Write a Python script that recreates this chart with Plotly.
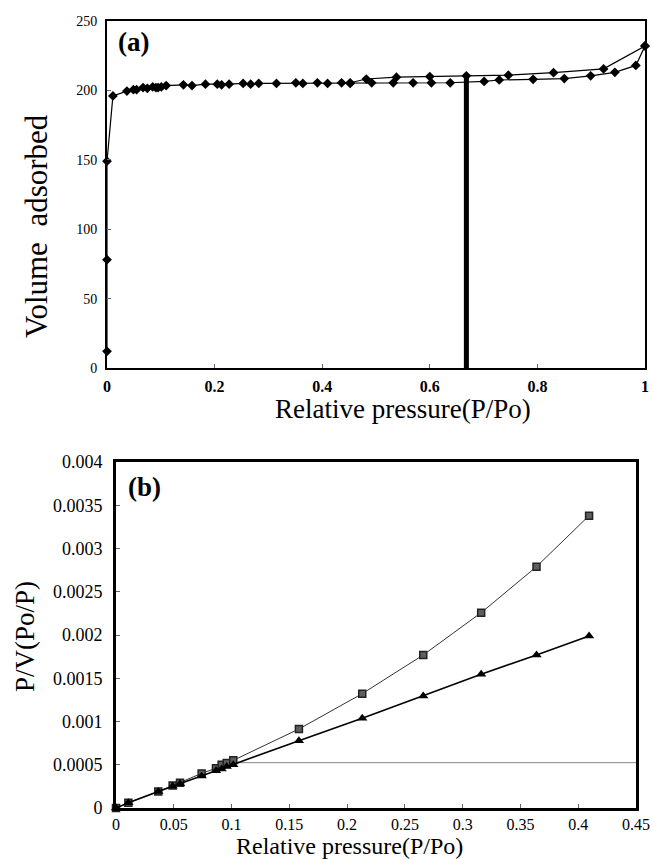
import plotly.graph_objects as go

# ---------------- Panel (a): isotherm ----------------
ads_x = [0, 0, 0, 0.011, 0.037, 0.049, 0.055, 0.067, 0.075, 0.085, 0.091, 0.095, 0.101, 0.110,
         0.142, 0.158, 0.183, 0.205, 0.213, 0.227, 0.253, 0.267, 0.282, 0.315, 0.351, 0.364,
         0.391, 0.410, 0.436, 0.452, 0.492, 0.532, 0.569, 0.603, 0.638, 0.701, 0.729, 0.792,
         0.850, 0.899, 0.944, 0.983, 1.0]
ads_y = [12, 78, 149, 196, 199.5, 200.5, 200.5, 202, 201.5, 202.5, 202, 202, 202.5, 203.5,
         204, 203.5, 204.5, 204.5, 204, 204.5, 205, 204.5, 205, 205, 205.5, 205,
         205.5, 205, 205.5, 205, 205.5, 205.5, 205.5, 205.5, 205.5, 206.5, 207.5, 208,
         208.5, 210.5, 213, 218, 232]
des_x = [1.0, 0.923, 0.830, 0.746, 0.668, 0.600, 0.538, 0.482, 0.452]
des_y = [232, 215.5, 212.8, 211, 210.5, 210, 209.5, 208.2, 205.5]
bar_x = [0.668, 0.668]
bar_y = [0, 211]
a_xticks = [0, 0.2, 0.4, 0.6, 0.8, 1]
a_xlabels = ["0", "0.2", "0.4", "0.6", "0.8", "1"]
a_yticks = [0, 50, 100, 150, 200, 250]

# ---------------- Panel (b): BET plot ----------------
sq_x = [0, 0.0107, 0.0366, 0.049, 0.0554, 0.0741, 0.0865, 0.0914, 0.0958, 0.1015,
        0.1583, 0.2131, 0.2659, 0.3160, 0.3639, 0.4094]
sq_y = [0, 0.00006, 0.00019, 0.00026, 0.000293, 0.000400, 0.00046, 0.00050, 0.00052, 0.000551,
        0.000913, 0.001322, 0.001769, 0.002258, 0.00279, 0.00338]
tri_x = [0, 0.0107, 0.0366, 0.049, 0.0554, 0.0741, 0.0865, 0.0914, 0.0958, 0.1015,
         0.1583, 0.2131, 0.2659, 0.3160, 0.3639, 0.4094]
tri_y = [0, 0.00006, 0.00019, 0.00025, 0.00028, 0.00037, 0.00043, 0.00045, 0.00048, 0.0005,
         0.000778, 0.001037, 0.001295, 0.001546, 0.001769, 0.001988]
hline_x = [0.101, 0.452]
hline_y = [0.000524, 0.000524]
b_xticks = [0, 0.05, 0.1, 0.15, 0.2, 0.25, 0.3, 0.35, 0.4, 0.45]
b_xlabels = ["0", "0.05", "0.1", "0.15", "0.2", "0.25", "0.3", "0.35", "0.4", "0.45"]
b_yticks = [0, 0.0005, 0.001, 0.0015, 0.002, 0.0025, 0.003, 0.0035, 0.004]
b_ylabels = ["0", "0.0005", "0.001", "0.0015", "0.002", "0.0025", "0.003", "0.0035", "0.004"]

W, H = 653, 860
SERIF = "Liberation Serif"


def px(x):
    return x / W


def py(y):
    return 1 - y / H


fig = go.Figure()

fig.add_trace(go.Scatter(x=ads_x, y=ads_y, mode="lines+markers", xaxis="x", yaxis="y",
                         line=dict(color="black", width=1.2),
                         marker=dict(symbol="diamond", size=7.5, color="black"),
                         cliponaxis=False, showlegend=False))
fig.add_trace(go.Scatter(x=des_x, y=des_y, mode="lines+markers", xaxis="x", yaxis="y",
                         line=dict(color="black", width=1.2),
                         marker=dict(symbol="diamond", size=7.5, color="black"),
                         cliponaxis=False, showlegend=False))
fig.add_trace(go.Scatter(x=bar_x, y=bar_y, mode="lines", xaxis="x", yaxis="y",
                         line=dict(color="black", width=5), showlegend=False))

fig.add_trace(go.Scatter(x=hline_x, y=hline_y, mode="lines", xaxis="x2", yaxis="y2",
                         line=dict(color="#888888", width=1), cliponaxis=False, showlegend=False))
fig.add_trace(go.Scatter(x=sq_x, y=sq_y, mode="lines+markers", xaxis="x2", yaxis="y2",
                         line=dict(color="#333333", width=1),
                         marker=dict(symbol="square", size=7, color="#5e5e5e",
                                     line=dict(color="#222222", width=1.5)),
                         cliponaxis=False, showlegend=False))
fig.add_trace(go.Scatter(x=tri_x, y=tri_y, mode="lines+markers", xaxis="x2", yaxis="y2",
                         line=dict(color="black", width=1.6),
                         marker=dict(symbol="triangle-up", size=9, color="black"),
                         cliponaxis=False, showlegend=False))

axis_common = dict(showgrid=False, zeroline=False, showline=True, mirror=True,
                   linecolor="black", ticks="inside", ticklen=4, tickcolor="#666666",
                   tickwidth=1, automargin=False)

fig.update_layout(
    width=W, height=H,
    margin=dict(l=0, r=0, t=0, b=0, pad=0, autoexpand=False),
    paper_bgcolor="white", plot_bgcolor="white",
    showlegend=False,
    xaxis=dict(domain=[px(107), px(645)], range=[0, 1], anchor="y",
               tickvals=a_xticks, ticktext=a_xlabels, linewidth=2, ticklabelstandoff=3,
               tickfont=dict(family=SERIF, size=16, color="black", weight="bold"),
               **axis_common),
    yaxis=dict(domain=[py(368), py(21)], range=[0, 250], anchor="x",
               tickvals=a_yticks, linewidth=2, ticklabelstandoff=5,
               tickfont=dict(family=SERIF, size=14, color="black"),
               **axis_common),
    xaxis2=dict(domain=[px(116), px(636)], range=[0, 0.45], anchor="y2",
                tickvals=b_xticks, ticktext=b_xlabels, linewidth=3, ticklabelstandoff=0,
                tickfont=dict(family=SERIF, size=16, color="black"),
                **axis_common),
    yaxis2=dict(domain=[py(808), py(462)], range=[0, 0.004], anchor="x2",
                tickvals=b_yticks, ticktext=b_ylabels, linewidth=3, ticklabelstandoff=7,
                tickfont=dict(family=SERIF, size=18, color="black"),
                **axis_common),
)

annos = [
    dict(text="<b>(a)</b>", x=px(116), y=py(42), xanchor="left", yanchor="middle",
         font=dict(family=SERIF, size=27, color="black")),
    dict(text="<b>(b)</b>", x=px(126), y=py(487), xanchor="left", yanchor="middle",
         font=dict(family=SERIF, size=27, color="black")),
    dict(text="Relative pressure(P/Po)", x=px(403), y=py(409), xanchor="center", yanchor="middle",
         font=dict(family=SERIF, size=27, color="black")),
    dict(text="Relative pressure(P/Po)", x=px(349), y=0, xanchor="center", yanchor="bottom",
         borderpad=0, font=dict(family=SERIF, size=24, color="black")),
    dict(text="Volume  adsorbed", x=px(37), y=py(226), xanchor="center", yanchor="middle",
         textangle=-90, font=dict(family=SERIF, size=31, color="black")),
    dict(text="P/V(Po/P)", x=px(25), y=py(637), xanchor="center", yanchor="middle",
         textangle=-90, font=dict(family=SERIF, size=27, color="black")),
]
for a in annos:
    a.update(xref="paper", yref="paper", showarrow=False)
    fig.add_annotation(**a)

# remove the default page margin so the 653x860 figure fills the window exactly
fig.write_html("out.html", config={"displayModeBar": False},
               post_script="document.body.style.margin='0';document.body.style.overflow='hidden';")
